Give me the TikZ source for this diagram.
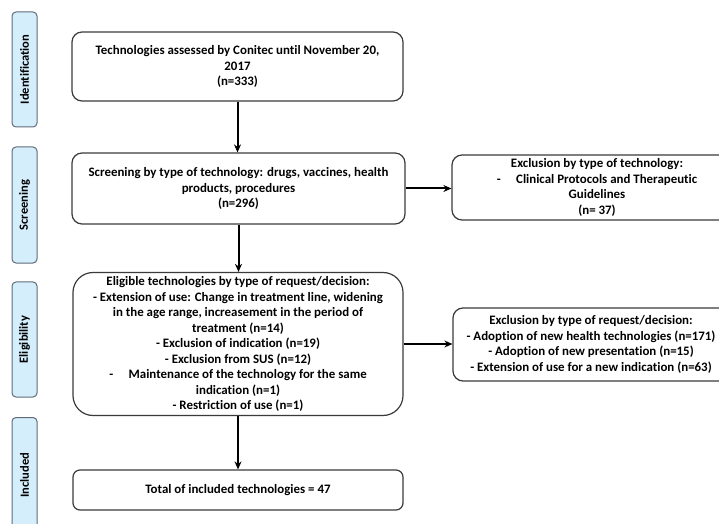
\documentclass[tikz,border=0pt]{standalone}
\usepackage{fontspec}
\setmainfont{Carlito}[Ligatures={NoCommon}]
\usetikzlibrary{arrows.meta}
\definecolor{sidefill}{HTML}{D5EEFB}
\definecolor{sidedraw}{HTML}{5F6B78}
\definecolor{boxdraw}{HTML}{3A3A3A}
\begin{document}
\begin{tikzpicture}[x=1bp,y=-1bp,
  box/.style={draw=boxdraw,line width=1.2bp,rounded corners=10bp,align=center,
    font=\fontsize{12.9bp}{15.4bp}\selectfont\bfseries,inner sep=0pt},
  side/.style={draw=sidedraw,fill=sidefill,line width=1bp,rounded corners=4bp,
    minimum width=25bp,inner sep=0pt,font=\fontsize{12.5bp}{13bp}\selectfont\bfseries},
  arr/.style={-{Stealth[length=8bp,width=7bp]},line width=2bp,black}]
\useasboundingbox (0,0) rectangle (719,524);
\clip (0,0) rectangle (719,524);
% phase labels
\node[side,minimum height=115bp] (sid) at (24.5,69.5) {\rotatebox{90}{Identification}};
\node[side,minimum height=116bp] (sscr) at (24.5,205) {\rotatebox{90}{Screening}};
\node[side,minimum height=115bp] (selg) at (24.5,339.5) {\rotatebox{90}{Eligibility}};
\node[side,minimum height=123bp,anchor=north] (sinc) at (24.5,417) {};
\node[font=\fontsize{12.5bp}{13bp}\selectfont\bfseries,inner sep=0pt] (sinclbl) at (24.5,475) {\rotatebox{90}{Included}};
% main column
\node[box,minimum width=331bp,minimum height=69bp] (b1) at (237.5,66.5)
  {Technologies assessed by Conitec until November 20,\\2017\\(n=333)};
\node[box,minimum width=333bp,minimum height=71bp] (b2) at (238.5,188.5)
  {Screening by type of technology: drugs, vaccines, health\\products, procedures\\(n=296)};
\node[box,rounded corners=20bp,minimum width=330bp,minimum height=143bp,
  font=\fontsize{12.9bp}{15.5bp}\selectfont\bfseries] (b3) at (238,344)
  {Eligible technologies by type of request/decision:\\
   - Extension of use: Change in treatment line, widening\\
   in the age range, increasement in the period of\\
   treatment (n=14)\\
   - Exclusion of indication (n=19)\\
   - Exclusion from SUS (n=12)\\
   -\hspace{1.2em}Maintenance of the technology for the same\\
   indication (n=1)\\
   - Restriction of use (n=1)};
\node[box,rounded corners=7bp,minimum width=330bp,minimum height=40bp] (b4) at (238,490)
  {Total of included technologies = 47};
% right column
\node[box,minimum width=290bp,minimum height=65bp] (r1) at (597,187.5)
  {Exclusion by type of technology:\\
   -\hspace{1.2em}Clinical Protocols and Therapeutic\\
   Guidelines\\
   (n= 37)};
\node[box,minimum width=276bp,minimum height=73bp] (r2) at (591,344.5)
  {Exclusion by type of request/decision:\\
   - Adoption of new health technologies (n=171)\\
   - Adoption of new presentation (n=15)\\
   - Extension of use for a new indication (n=63)};
% connectors
\draw[arr] (b1.south) -- (b1.south |- b2.north);
\draw[arr] (b2.south) -- (b2.south |- b3.north);
\draw[arr] (b3.south) -- (b3.south |- b4.north);
\draw[arr] (b2.east) -- (b2.east -| r1.west);
\draw[arr] (b3.east) -- (b3.east -| r2.west);
\end{tikzpicture}
\end{document}
